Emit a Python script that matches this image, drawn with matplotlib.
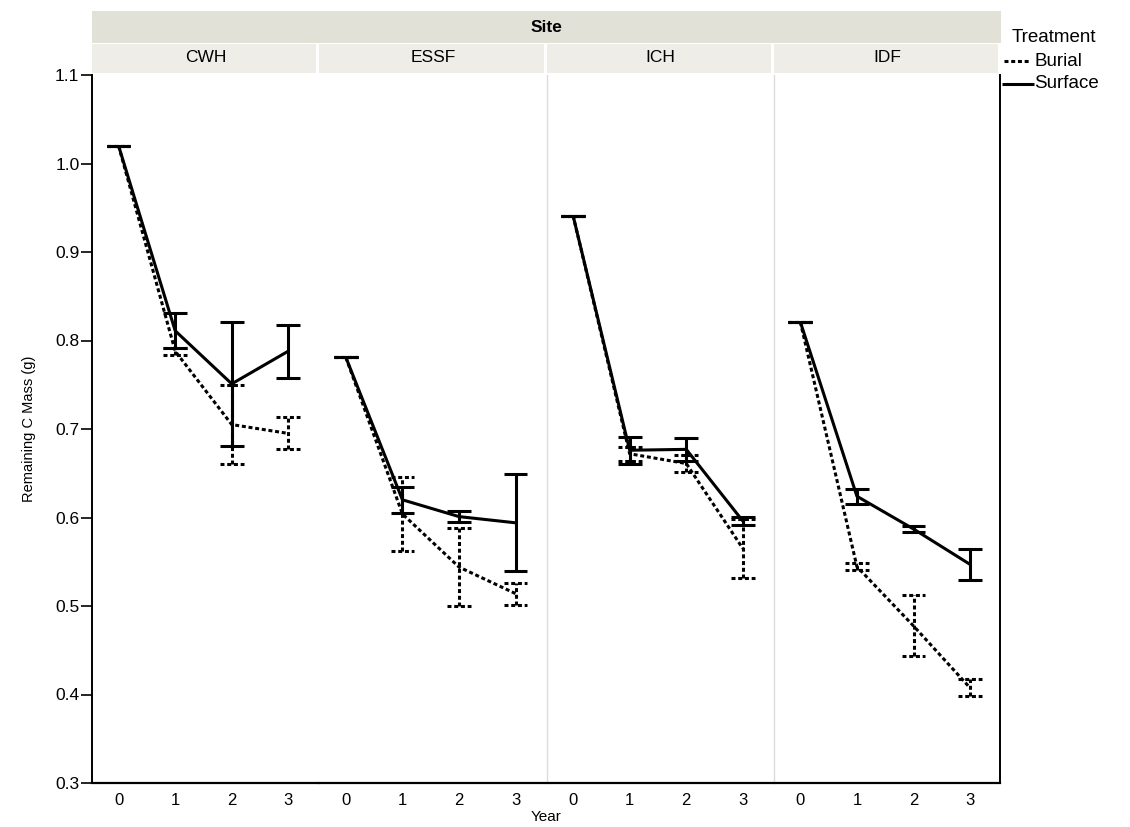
import matplotlib
matplotlib.use("Agg")
import matplotlib.pyplot as plt
from matplotlib.patches import Rectangle
from matplotlib.lines import Line2D

plt.rcParams['font.family'] = ['Liberation Sans', 'DejaVu Sans']

#=-=-=-=-=-=-=-=-=-=-=-=-=-=-=-=-=-=-=-=-=-=-=-=-=-=-=-=-=-=-=-=
# data
sites = ['CWH', 'ESSF', 'ICH', 'IDF']
years = [0, 1, 2, 3]
yticks = [0.3, 0.4, 0.5, 0.6, 0.7, 0.8, 0.9, 1.0, 1.1]

surface_mean = {
    'CWH':  [1.020, 0.811, 0.751, 0.788],
    'ESSF': [0.781, 0.620, 0.601, 0.594],
    'ICH':  [0.941, 0.676, 0.677, 0.596],
    'IDF':  [0.821, 0.624, 0.587, 0.547],
}
surface_err = {
    'CWH':  [0.0, 0.020, 0.070, 0.030],
    'ESSF': [0.0, 0.015, 0.006, 0.055],
    'ICH':  [0.0, 0.015, 0.013, 0.005],
    'IDF':  [0.0, 0.0085, 0.003, 0.0175],
}
burial_mean = {
    'CWH':  [1.020, 0.788, 0.705, 0.695],
    'ESSF': [0.781, 0.604, 0.544, 0.514],
    'ICH':  [0.941, 0.672, 0.661, 0.565],
    'IDF':  [0.821, 0.5445, 0.4775, 0.4075],
}
burial_err = {
    'CWH':  [0.0, 0.004, 0.045, 0.018],
    'ESSF': [0.0, 0.042, 0.044, 0.0125],
    'ICH':  [0.0, 0.008, 0.010, 0.033],
    'IDF':  [0.0, 0.004, 0.0345, 0.0095],
}

#=-=-=-=-=-=-=-=-=-=-=-=-=-=-=-=-=-=-=-=-=-=-=-=-=-=-=-=-=-=-=-=
W, H = 1130, 827
fig = plt.figure(figsize=(W / 100, H / 100), dpi=100)

def fx(px):
    return px / W

def fy(py):
    return 1 - py / H

left, right, top, bottom = 92, 1001, 75, 783
pw = (right - left) / 4
lw = 2.2
dash = (1.3, 0.9)
cap = 0.21

def draw(ax, mean, err, dashed):
    kw = dict(color='black', linewidth=lw, solid_capstyle='butt', dash_capstyle='butt')
    if dashed:
        kw['linestyle'] = (0, dash)
    ax.plot(years, mean, **kw)
    for x, m, e in zip(years, mean, err):
        ax.plot([x, x], [m - e, m + e], **kw)
        ax.plot([x - cap, x + cap], [m - e, m - e], **kw)
        ax.plot([x - cap, x + cap], [m + e, m + e], **kw)

axes = []
for i, s in enumerate(sites):
    x0 = left + i * pw
    ax = fig.add_axes([fx(x0), fy(bottom), (pw - 1.5) / W, (bottom - top) / H])
    draw(ax, burial_mean[s], burial_err[s], True)
    draw(ax, surface_mean[s], surface_err[s], False)
    ax.set_xlim(-0.47, 3.52)
    ax.set_ylim(0.3, 1.1)
    ax.set_xticks(years)
    ax.tick_params(axis='x', length=0, labelsize=12, pad=7)
    ax.spines['top'].set_visible(False)
    ax.spines['bottom'].set_linewidth(1.6)
    ax.spines['right'].set_visible(i == 3)
    ax.spines['right'].set_linewidth(1.4)
    if i == 0:
        ax.set_yticks(yticks)
        ax.set_yticklabels(['%.1f' % v for v in yticks])
        ax.tick_params(axis='y', length=8, width=1.2, labelsize=12.5, pad=1)
        ax.spines['left'].set_linewidth(1.4)
        ax.set_ylabel('Remaining C Mass (g)', fontsize=10.5, labelpad=14)
    else:
        ax.set_yticks([])
        if i == 1:
            ax.spines['left'].set_visible(False)
        else:
            ax.spines['left'].set_color('#dcdcdc')
            ax.spines['left'].set_linewidth(1.0)
    axes.append(ax)

fig.text(fx((left + right) / 2), fy(817), 'Year', ha='center', va='center', fontsize=11)

# header bands
fig.add_artist(Rectangle((fx(left), fy(43)), (right - left) / W, 32 / H,
                         transform=fig.transFigure, facecolor='#e2e1d8', edgecolor='none'))
fig.text(fx((left + right) / 2), fy(27), 'Site', ha='center', va='center',
         fontsize=12.5, fontweight='bold')
for i, s in enumerate(sites):
    x0 = left + i * pw
    fig.add_artist(Rectangle((fx(x0), fy(73)), (pw - 3) / W, 29 / H,
                             transform=fig.transFigure, facecolor='#eeede7', edgecolor='none'))
    fig.text(fx(x0 + pw / 2), fy(58), s, ha='center', va='center', fontsize=12.5)

# legend
fig.text(fx(1012), fy(37), 'Treatment', ha='left', va='center', fontsize=13.5)
fig.add_artist(Line2D([fx(1004), fx(1030)], [fy(61), fy(61)], transform=fig.transFigure,
                      color='black', linewidth=lw, linestyle=(0, dash), dash_capstyle='butt'))
fig.text(fx(1035), fy(61), 'Burial', ha='left', va='center', fontsize=13.5)
fig.add_artist(Line2D([fx(1002), fx(1034)], [fy(84), fy(84)], transform=fig.transFigure,
                      color='black', linewidth=lw, solid_capstyle='butt'))
fig.text(fx(1034), fy(84), 'Surface', ha='left', va='center', fontsize=13.5)

plt.savefig('out.png', dpi=100)
